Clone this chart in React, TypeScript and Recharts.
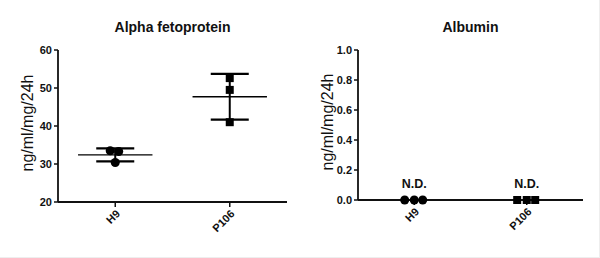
import {
  ComposedChart,
  ReferenceDot,
  ReferenceLine,
  Scatter,
  XAxis,
  YAxis,
  ZAxis,
} from "recharts";

const categories = ["H9", "P106"];

// alpha fetoprotein, three replicates per line
const afpH9 = [33.5, 33.3, 30.4];
const afpP106 = [52.6, 49.5, 41.0];
// horizontal scatter of the replicates (category units)
const afpJitterH9 = [-0.044, 0.03, 0];
const afpJitterP106 = [0, 0, 0];

// albumin, not detected
const albH9 = [0, 0, 0];
const albP106 = [0, 0, 0];
const albJitter = [-0.085, 0, 0.075];
const ndLabels = ["N.D.", "N.D."];

const afpTicks = [20, 30, 40, 50, 60];
const albTicks = [0, 0.2, 0.4, 0.6, 0.8, 1.0];

const unitLabel = "ng/ml/mg/24h";

const FONT = "Arial, 'Liberation Sans', sans-serif";
const MEAN_HALF = 0.325;
const CAP_HALF = 0.166;

const mean = (v: number[]) => v.reduce((a, b) => a + b, 0) / v.length;
const sd = (v: number[]) => {
  const m = mean(v);
  return Math.sqrt(v.reduce((a, b) => a + (b - m) ** 2, 0) / (v.length - 1));
};

const toPoints = (vals: number[], cat: number, jitter: number[]) =>
  vals.map((y, i) => ({ x: cat + jitter[i], y }));

const tickStyle = { fontFamily: FONT, fontSize: 11, fontWeight: 700, fill: "#111" };
const xTickStyle = { ...tickStyle, angle: -45, textAnchor: "end" as const };

function MeanSd({ vals, cat }: { vals: number[]; cat: number }) {
  const m = mean(vals);
  const s = sd(vals);
  return [
    <ReferenceLine
      key="mean"
      segment={[{ x: cat - MEAN_HALF, y: m }, { x: cat + MEAN_HALF, y: m }]}
      stroke="#000"
      strokeWidth={1.3}
    />,
    <ReferenceLine
      key="bar"
      segment={[{ x: cat, y: m - s }, { x: cat, y: m + s }]}
      stroke="#000"
      strokeWidth={2}
    />,
    <ReferenceLine
      key="hi"
      segment={[{ x: cat - CAP_HALF, y: m + s }, { x: cat + CAP_HALF, y: m + s }]}
      stroke="#000"
      strokeWidth={2.2}
    />,
    <ReferenceLine
      key="lo"
      segment={[{ x: cat - CAP_HALF, y: m - s }, { x: cat + CAP_HALF, y: m - s }]}
      stroke="#000"
      strokeWidth={2.2}
    />,
  ];
}

const Title = ({ text, center }: { text: string; center: number }) => (
  <div
    style={{
      position: "absolute",
      left: center - 100,
      width: 200,
      top: 18,
      textAlign: "center",
      fontFamily: FONT,
      fontSize: 14,
      fontWeight: 700,
      color: "#111",
      lineHeight: "18px",
    }}
  >
    {text}
  </div>
);

const yLabel = {
  value: unitLabel,
  angle: -90,
  position: "center" as const,
  dx: -2,
  dy: -3,
  style: { fontFamily: FONT, fontSize: 16, fill: "#111", textAnchor: "middle" },
};

const xAxisCommon = {
  type: "number" as const,
  dataKey: "x",
  domain: [-0.5, 1.5],
  ticks: [0, 1],
  allowDataOverflow: true,
  tickSize: 5,
  tickFormatter: (i: number) => categories[i],
  tick: xTickStyle,
  axisLine: { stroke: "#111", strokeWidth: 1.8 },
  tickLine: { stroke: "#111", strokeWidth: 1.5 },
};

export default function App() {
  const h9Afp = toPoints(afpH9, 0, afpJitterH9);
  const p106Afp = toPoints(afpP106, 1, afpJitterP106);
  const h9Alb = toPoints(albH9, 0, albJitter);
  const p106Alb = toPoints(albP106, 1, albJitter);

  return (
    <div
      style={{
        position: "absolute",
        left: 0,
        top: 0,
        width: 599,
        height: 257,
        background: "#fff",
        borderRight: "1px solid #eee",
        borderBottom: "1px solid #eee",
      }}
    >
      <Title text="Alpha fetoprotein" center={172.5} />
      <Title text="Albumin" center={470.5} />

      <div style={{ position: "absolute", left: 0, top: 0 }}>
        <ComposedChart width={300} height={258} margin={{ top: 50, right: 13, bottom: 0, left: 0 }}>
          <XAxis {...xAxisCommon} height={56} />
          <YAxis
            type="number"
            dataKey="y"
            domain={[20, 60]}
            ticks={afpTicks}
            width={58}
            tickSize={4}
            tick={tickStyle}
            axisLine={{ stroke: "#111", strokeWidth: 1.8 }}
            tickLine={{ stroke: "#111", strokeWidth: 1.5 }}
            label={yLabel}
          />
          <ZAxis range={[24, 24]} />
          {MeanSd({ vals: afpH9, cat: 0 })}
          {MeanSd({ vals: afpP106, cat: 1 })}
          <Scatter data={h9Afp} shape="circle" fill="#000" isAnimationActive={false} />
          <Scatter data={p106Afp} shape="square" fill="#000" isAnimationActive={false} />
        </ComposedChart>
      </div>

      <div style={{ position: "absolute", left: 300, top: 0 }}>
        <ComposedChart width={300} height={258} margin={{ top: 50, right: 17, bottom: 0, left: 0 }}>
          <XAxis {...xAxisCommon} height={58} />
          <YAxis
            type="number"
            dataKey="y"
            domain={[0, 1]}
            ticks={albTicks}
            tickFormatter={(v: number) => v.toFixed(1)}
            width={58}
            tickSize={4}
            tick={tickStyle}
            axisLine={{ stroke: "#111", strokeWidth: 1.8 }}
            tickLine={{ stroke: "#111", strokeWidth: 1.5 }}
            label={yLabel}
          />
          <ZAxis range={[24, 24]} />
          {ndLabels.map((t, i) => (
            <ReferenceDot
              key={i}
              x={i}
              y={0}
              r={0}
              ifOverflow="visible"
              label={{
                value: t,
                position: "top",
                offset: 12,
                style: { fontFamily: FONT, fontSize: 12.5, fontWeight: 700, fill: "#111" },
              }}
            />
          ))}
          <Scatter data={h9Alb} shape="circle" fill="#000" isAnimationActive={false} />
          <Scatter data={p106Alb} shape="square" fill="#000" isAnimationActive={false} />
        </ComposedChart>
      </div>
    </div>
  );
}
